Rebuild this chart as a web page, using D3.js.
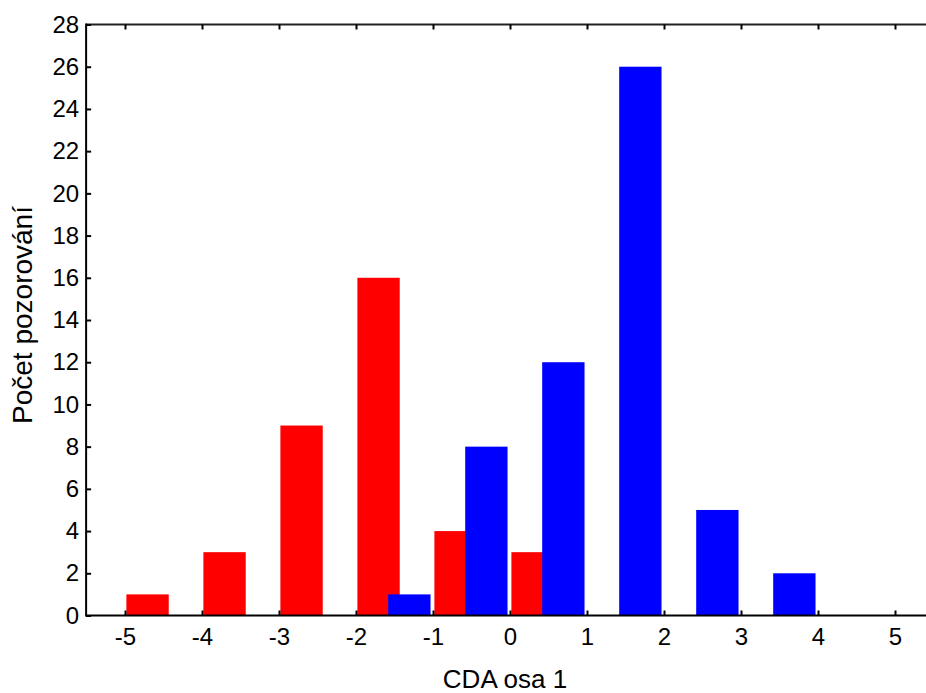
<!DOCTYPE html>
<html><head><meta charset="utf-8">
<script src="https://cdn.jsdelivr.net/npm/d3@7/dist/d3.min.js"></script>
<style>body{margin:0;background:#fff}svg{display:block}text{font-family:"Liberation Sans",Arial,sans-serif;fill:#000}</style>
</head><body>
<script>
const binStarts = [-5,-4,-3,-2,-1,0,1,2,3,4];
const redValues = [1,3,9,16,4,3,0,0,0,0];
const blueValues = [0,0,0,1,8,12,26,5,2,0];
const xTicks = [-5,-4,-3,-2,-1,0,1,2,3,4,5];
const yTicks = [0,2,4,6,8,10,12,14,16,18,20,22,24,26,28];
const xTitle = "CDA osa 1";
const yTitle = "Počet pozorování";

const W=926,H=693;
const svg=d3.select("body").append("svg").attr("width",W).attr("height",H);
const x=d3.scaleLinear().domain([-5,5]).range([125,895]);
const y=d3.scaleLinear().domain([0,28]).range([615.5,24.5]);
const left=x(-5.505), right=W+10;
const barW = x(0.55)-x(0);
const fmt = d=>String(d);

const g=svg.append("g");
const series=[{vals:redValues,color:"#ff0000",off:0.018},{vals:blueValues,color:"#0000ff",off:0.418}];
series.forEach(s=>{
  g.selectAll(null).data(binStarts.map((b,i)=>({b,v:s.vals[i]})).filter(d=>d.v>0))
   .enter().append("rect")
   .attr("x",d=>x(d.b+s.off)).attr("width",barW)
   .attr("y",d=>y(d.v)).attr("height",d=>y(0)-y(d.v))
   .attr("fill",s.color);
});

// frame lines
svg.append("line").attr("x1",left).attr("x2",right).attr("y1",y(0)).attr("y2",y(0)).attr("stroke","#000").attr("stroke-width",2);
svg.append("line").attr("x1",left).attr("x2",right).attr("y1",y(28)).attr("y2",y(28)).attr("stroke","#222").attr("stroke-width",2);
svg.append("line").attr("x1",left).attr("x2",left).attr("y1",y(28)-1).attr("y2",y(0)+1).attr("stroke","#000").attr("stroke-width",2);

// x axis bottom
const xb=svg.append("g").attr("transform",`translate(0,${y(0)})`)
 .call(d3.axisBottom(x).tickValues(xTicks).tickSize(-5).tickPadding(12).tickFormat(fmt));
xb.select(".domain").remove();
xb.selectAll("line").attr("stroke","#000").attr("stroke-width",2);
xb.selectAll("text").attr("font-size",24).attr("font-family","Liberation Sans, Arial, sans-serif").attr("dy","0.71em");
// top ticks
const xt=svg.append("g").attr("transform",`translate(0,${y(28)})`)
 .call(d3.axisTop(x).tickValues(xTicks).tickSize(-5).tickFormat(""));
xt.select(".domain").remove();
xt.selectAll("line").attr("stroke","#000").attr("stroke-width",2);

// y axis
const ya=svg.append("g").attr("transform",`translate(${left},0)`)
 .call(d3.axisLeft(y).tickValues(yTicks).tickSize(-5).tickPadding(7).tickFormat(fmt));
ya.select(".domain").remove();
ya.selectAll("line").attr("stroke","#000").attr("stroke-width",2);
ya.selectAll("text").attr("font-size",24).attr("font-family","Liberation Sans, Arial, sans-serif");

svg.append("text").attr("x",505).attr("y",688).attr("text-anchor","middle").attr("font-size",26).text(xTitle);
svg.append("text").attr("transform","translate(32,315) rotate(-90)").attr("text-anchor","middle").attr("font-size",28).text(yTitle);
</script>
</body></html>
